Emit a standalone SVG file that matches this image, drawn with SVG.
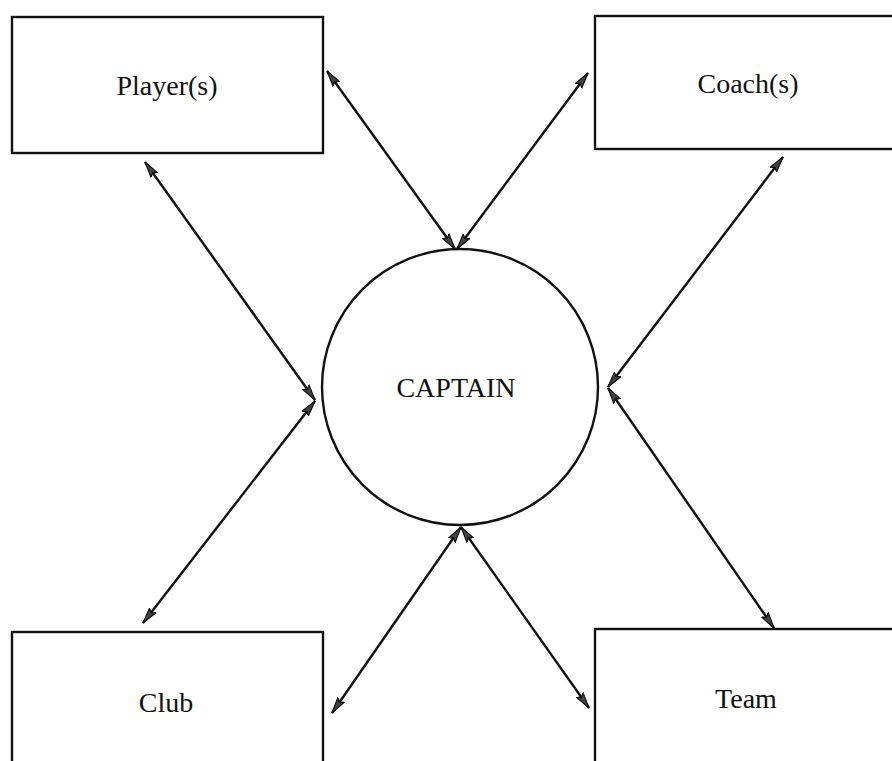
<svg xmlns="http://www.w3.org/2000/svg" width="892" height="761" viewBox="0 0 892 761">
<style>
.box{fill:none;stroke:#111;stroke-width:2.4}
.lbl{font-family:"Liberation Serif","Times New Roman",serif;font-size:28px;fill:#111;text-anchor:middle}
.con{stroke:#111;stroke-width:2.4;fill:none;marker-start:url(#ah);marker-end:url(#ah)}
</style>
<defs>
<marker id="ah" markerUnits="userSpaceOnUse" markerWidth="18" markerHeight="12" refX="16" refY="5" orient="auto-start-reverse" viewBox="0 0 18 10">
<path d="M0,1 L16,5 L0,9 L3,5 Z" fill="#444" stroke="#111" stroke-width="1.2"/>
</marker>
</defs>
<rect width="892" height="761" fill="#fff"/>
<g id="connectors">
<line class="con" x1="327" y1="71" x2="455" y2="249"/>
<line class="con" x1="588" y1="73" x2="457" y2="249"/>
<line class="con" x1="145" y1="162" x2="315" y2="400"/>
<line class="con" x1="783" y1="157" x2="608" y2="387"/>
<line class="con" x1="315" y1="401" x2="143" y2="623"/>
<line class="con" x1="461" y1="527" x2="332" y2="713"/>
<line class="con" x1="461" y1="527" x2="589" y2="708"/>
<line class="con" x1="608" y1="388" x2="774" y2="628"/>
</g>
<g id="captain">
<circle cx="460" cy="387" r="138" fill="none" stroke="#111" stroke-width="2.4"/>
<text class="lbl" x="456" y="397">CAPTAIN</text>
</g>
<g id="players">
<rect class="box" x="12" y="17" width="311" height="136"/>
<text class="lbl" x="167" y="95">Player(s)</text>
</g>
<g id="coaches">
<rect class="box" x="595" y="16" width="320" height="133"/>
<text class="lbl" x="748" y="93">Coach(s)</text>
</g>
<g id="club">
<rect class="box" x="12" y="632" width="311" height="150"/>
<text class="lbl" x="166" y="712">Club</text>
</g>
<g id="team">
<rect class="box" x="595" y="629" width="320" height="150"/>
<text class="lbl" x="746" y="708">Team</text>
</g>
</svg>
